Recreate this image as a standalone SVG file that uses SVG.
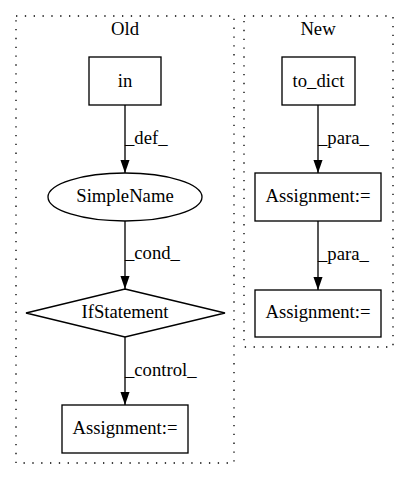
<svg xmlns="http://www.w3.org/2000/svg" width="408" height="480" viewBox="0 0 408 480">
<defs>
<style>
text{font-family:'Liberation Serif','Times New Roman',serif;font-size:18.67px;fill:#000}
.c{text-anchor:middle}
.n{fill:#fff;stroke:#000;stroke-width:1.33}
.cl{fill:none;stroke:#000;stroke-width:1.33;stroke-dasharray:1.33,7.5}
.e{fill:none;stroke:#000;stroke-width:1.33}
</style>
<marker id="ah" viewBox="0 0 13.3 9.3" refX="13.3" refY="4.65" markerWidth="13.3" markerHeight="9.3" markerUnits="userSpaceOnUse" orient="auto">
<path d="M0,0L13.3,4.65L0,9.3z" fill="#000"/>
</marker>
</defs>
<rect width="408" height="480" fill="#fff"/>
<g id="cluster_old">
<rect class="cl" x="16" y="16" width="218" height="447"/>
<text class="c" x="125" y="35">Old</text>
</g>
<g id="cluster_new">
<rect class="cl" x="244" y="16" width="149" height="331"/>
<text class="c" x="318" y="35">New</text>
</g>
<g id="edges">
<path class="e" d="M125,105V173" marker-end="url(#ah)"/>
<text x="125" y="144">_def_</text>
<path class="e" d="M125,221V289" marker-end="url(#ah)"/>
<text x="125" y="259">_cond_</text>
<path class="e" d="M125,337V405" marker-end="url(#ah)"/>
<text x="125" y="376">_control_</text>
<path class="e" d="M318,105V173" marker-end="url(#ah)"/>
<text x="318" y="144">_para_</text>
<path class="e" d="M318,221V290" marker-end="url(#ah)"/>
<text x="318" y="260">_para_</text>
</g>
<g id="in">
<rect class="n" x="89" y="57" width="72" height="48"/>
<text class="c" x="125" y="87">in</text>
</g>
<g id="simplename">
<ellipse class="n" cx="125" cy="197" rx="77" ry="24"/>
<text class="c" x="125" y="202">SimpleName</text>
</g>
<g id="ifstatement">
<polygon class="n" points="125,289 225,313 125,337 26,313"/>
<text class="c" x="125" y="318">IfStatement</text>
</g>
<g id="assignment_old">
<rect class="n" x="62" y="405" width="126" height="48"/>
<text class="c" x="125" y="434">Assignment:=</text>
</g>
<g id="to_dict">
<rect class="n" x="282" y="57" width="73" height="48"/>
<text class="c" x="318.5" y="87">to_dict</text>
</g>
<g id="assignment_new1">
<rect class="n" x="255" y="173" width="126" height="48"/>
<text class="c" x="318" y="202">Assignment:=</text>
</g>
<g id="assignment_new2">
<rect class="n" x="255" y="290" width="126" height="47"/>
<text class="c" x="318" y="318">Assignment:=</text>
</g>
</svg>
